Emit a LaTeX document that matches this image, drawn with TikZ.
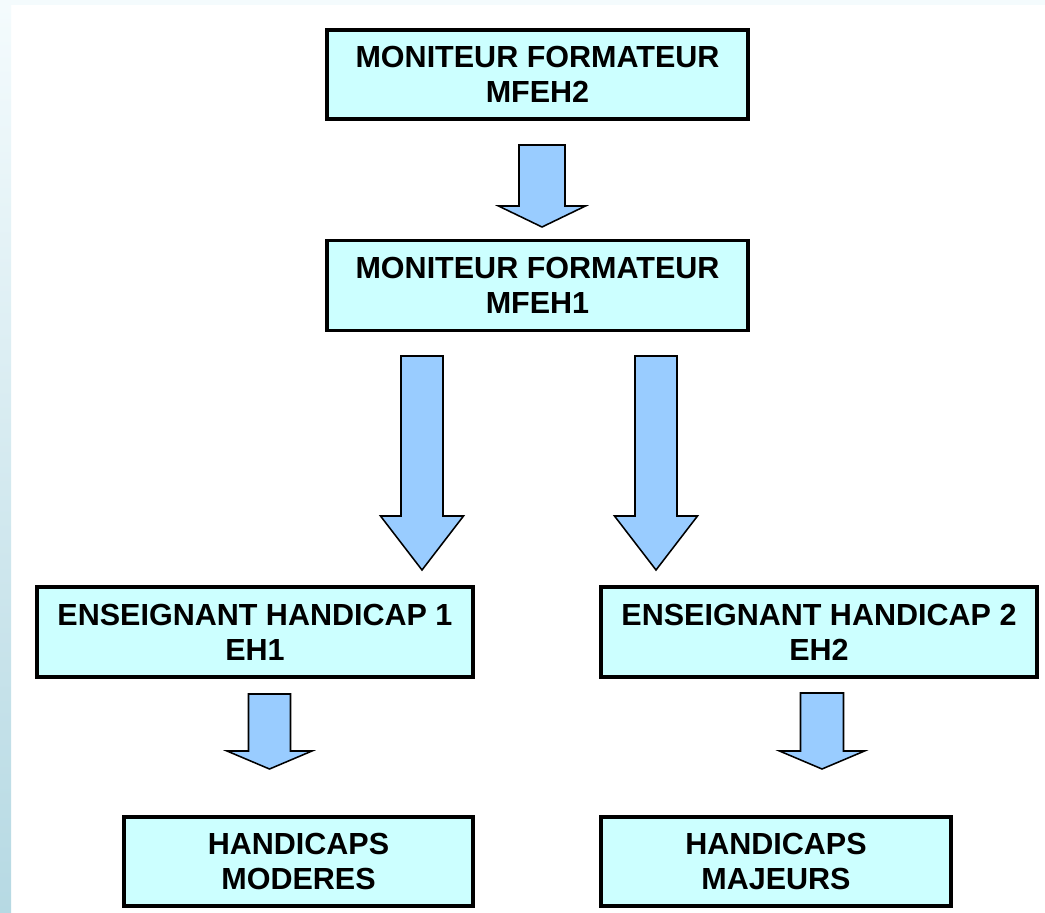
\documentclass[tikz,border=0pt]{standalone}
\usepackage{fontspec}
\setmainfont{Liberation Sans}
\usepackage{xcolor}
\usetikzlibrary{positioning,calc}

\definecolor{boxfill}{HTML}{CCFFFF}
\definecolor{arrowfill}{HTML}{99CCFF}
\definecolor{stripe}{HTML}{F4FBFD}
\definecolor{stripebot}{HTML}{B6D9E3}

% block arrow: x, top, start of head, tip, half shaft, half head
\newcommand{\fleche}[6]{%
  \draw[flecheblock] (#1-#5,#2) -- (#1+#5,#2) -- (#1+#5,#3) -- (#1+#6,#3)
    -- (#1,#4) -- (#1-#6,#3) -- (#1-#5,#3) -- cycle;
}

\begin{document}
\begin{tikzpicture}[x=0.025cm, y=-0.025cm,
  boite/.style 2 args={draw, line width=2.2pt, fill=boxfill, align=center,
    inner sep=0pt, font=\bfseries\fontsize{21.7}{24.9}\selectfont,
    minimum width=#1*0.025cm, minimum height=#2*0.025cm},
  flecheblock/.style={draw, line width=1.1pt, fill=arrowfill, line join=miter}]
  \useasboundingbox (0,0) rectangle (1045,913);

  % background
  \fill[white] (0,0) rectangle (1045,913);
  \fill[stripe] (0,0) rectangle (1045,5);
  \shade[top color=stripe, bottom color=stripebot] (0,5) rectangle (11,913);

  % boxes
  \node[boite={421}{89}] (mf2) at (537.5,74.5)
    {MONITEUR FORMATEUR\\MFEH2};
  \node[boite={421}{90}] (mf1) at (537.5,285.5)
    {MONITEUR FORMATEUR\\MFEH1};
  \node[boite={436}{90}] (eh1) at (255,632)
    {ENSEIGNANT HANDICAP 1\\EH1};
  \node[boite={436}{90}] (eh2) at (819,632)
    {ENSEIGNANT HANDICAP 2\\EH2};
  \node[boite={349}{89}] (mod) at (298.5,861.5)
    {HANDICAPS\\MODERES};
  \node[boite={350}{89}] (maj) at (776,861.5)
    {HANDICAPS\\MAJEURS};

  % arrows
  \fleche{542}{145}{206}{227}{23}{43.5}
  \fleche{422}{356}{516}{570}{21}{41.5}
  \fleche{656}{356}{516}{570}{21}{41.5}
  \fleche{269.5}{694}{751}{769}{21}{42.5}
  \fleche{822}{693}{751}{769}{21.5}{42.5}
\end{tikzpicture}
\end{document}
